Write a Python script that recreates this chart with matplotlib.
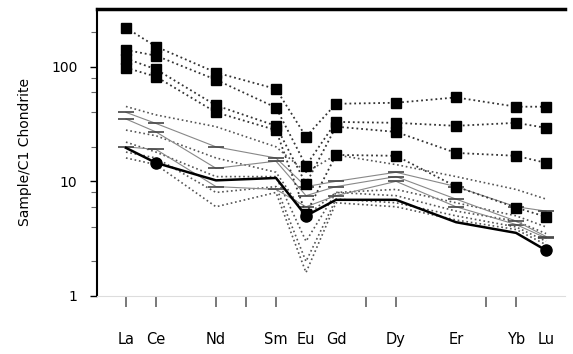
import numpy as np
import matplotlib
matplotlib.use("Agg")
import matplotlib.pyplot as plt

# element positions along the x axis (chondrite order, all 15 REE)
elements = ["La", "Ce", "Pr", "Nd", "Pm", "Sm", "Eu", "Gd", "Tb", "Dy", "Ho", "Er", "Tm", "Yb", "Lu"]
measured = ["La", "Ce", "Nd", "Sm", "Eu", "Gd", "Dy", "Er", "Yb", "Lu"]
label_elems = ["La", "Ce", "Nd", "Sm", "Eu", "Gd", "Dy", "Er", "Yb", "Lu"]
tick_elems = ["La", "Ce", "Nd", "Pm", "Sm", "Tb", "Dy", "Tm", "Yb"]

# samples with filled squares (values for the measured elements)
sq_a = [219, 150, 89, 64, 24.5, 47.5, 48.5, 54, 44.8, 44.8]
sq_b = [140, 125, 77, 44, 13.7, 33, 32.4, 30.5, 32.4, 29.3]
sq_c = [118, 95, 46, 30.5, 9.5, 30, 27, 17.7, 16.7, 14.5]
sq_d = [98, 82, 40, 28, 5.2, 17, 16.7, 9.0, 5.9, 4.9]

# samples without markers / light symbols
low_1 = [45, 38, 30, 20, 12, 17, 14, 11, 8.5, 7]
low_2 = [40, 32, 20, 16, 9, 10, 12, 9, 6, 5.5]
low_3 = [28, 25, 16, 12, 5, 8, 8.5, 6.5, 5, 4]
low_4 = [22, 18, 11, 11, 3, 8, 7.5, 5.5, 4.5, 3.5]
low_5 = [18, 16, 8, 9, 2, 7, 6.5, 5, 4, 3]
low_6 = [16, 14, 6, 8, 1.6, 6.5, 6, 4.6, 3.8, 2.8]
low_7 = [20, 19, 9, 8.5, 6, 7.5, 10, 6, 4.2, 3.2]
low_8 = [35, 27, 13, 15, 7.5, 9, 11, 7, 4.5, 3.3]

# bold reference sample
main = [19.6, 14.5, 10.2, 10.7, 5.0, 6.9, 6.9, 4.4, 3.55, 2.5]

x = [elements.index(e) for e in measured]

fig = plt.figure(figsize=(5.73, 3.54), dpi=100)
ax = fig.add_axes([0.169, 0.164, 0.817, 0.811])

# dotted gray samples
for vals in [low_1, low_3, low_4, low_5, low_6]:
	ax.plot(x, vals, linestyle=":", color="#555555", lw=1.2)

# thin gray lines with bar symbols
for vals in [low_2, low_7, low_8]:
	ax.plot(x, vals, linestyle="-", color="#888888", lw=0.8,
		marker="_", markersize=12, markeredgewidth=1.2, markeredgecolor="#444444")

# square samples
for vals in [sq_a, sq_b, sq_c, sq_d]:
	ax.plot(x, vals, linestyle=":", color="#333333", lw=1.3,
		marker="s", markersize=7, markerfacecolor="black", markeredgecolor="black")

# bold sample
ax.plot(x, main, color="black", lw=1.8)
ax.plot([x[1], x[4], x[9]], [main[1], main[4], main[9]], linestyle="none",
	marker="o", markersize=8, color="black")

ax.set_yscale("log")
ax.set_ylim(1, 320)
ax.set_xlim(-0.97, 14.63)

ax.set_yticks([1, 10, 100])
ax.set_yticklabels(["1", "10", "100"])
ax.yaxis.set_minor_locator(matplotlib.ticker.LogLocator(base=10, subs=[2, 4, 6, 8]))
ax.yaxis.set_minor_formatter(matplotlib.ticker.NullFormatter())
ax.tick_params(axis="y", which="major", direction="out", length=5, width=1, pad=9, labelsize=10)
ax.tick_params(axis="y", which="minor", direction="out", length=4, width=0.8, color="#666666")

ax.set_xticks([elements.index(e) for e in tick_elems])
ax.set_xticklabels([])
ax.set_xticks([elements.index(e) + 0.001 for e in label_elems], minor=True)
ax.set_xticklabels(label_elems, minor=True)
ax.tick_params(axis="x", which="major", direction="out", length=8, width=1.1, color="#555555")
ax.tick_params(axis="x", which="minor", length=0, pad=26, labelsize=10.5)

ax.set_ylabel("Sample/C1 Chondrite", fontsize=10, labelpad=14)

ax.spines["top"].set_linewidth(2.5)
ax.spines["left"].set_linewidth(1.5)
ax.spines["right"].set_visible(False)
ax.spines["bottom"].set_color("#dddddd")
ax.spines["bottom"].set_linewidth(0.8)

fig.savefig("out.png", dpi=100)
